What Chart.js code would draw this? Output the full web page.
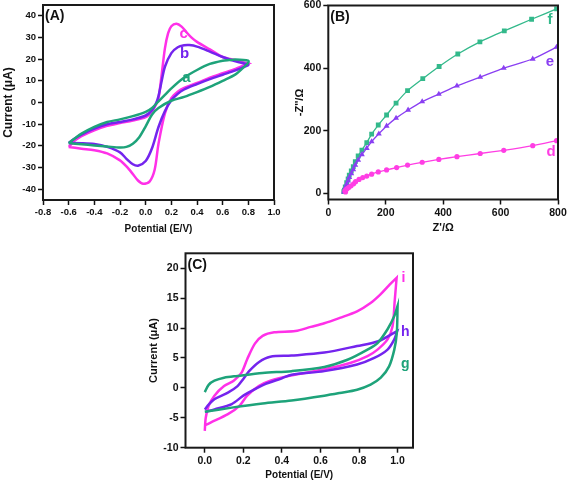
<!DOCTYPE html>
<html>
<head>
<meta charset="utf-8">
<script src="https://cdn.jsdelivr.net/npm/chart.js@4.4.0/dist/chart.umd.min.js"></script>
<style>
  html, body { margin: 0; padding: 0; background: #fff; }
  body { width: 567px; height: 484px; position: relative; overflow: hidden; }
  canvas { position: absolute; }
</style>
</head>
<body>
<canvas id="chartA" width="285" height="236" style="left:0px;top:0px"></canvas>
<canvas id="chartB" width="282" height="236" style="left:285px;top:0px"></canvas>
<canvas id="chartC" width="283" height="244" style="left:140px;top:240px"></canvas>
<script>
/*************************** PANEL A : CV, -0.6 .. 0.8 V ***************************/
// curve a (green)
const aFwdE = [-0.6, -0.55, -0.5, -0.4, -0.3, -0.2, -0.1, 0, 0.05, 0.1, 0.15, 0.2, 0.3, 0.4, 0.5, 0.6, 0.65, 0.7, 0.8];
const aFwdI = [-18.7, -16.5, -14.4, -11.3, -9, -7.8, -6.3, -4.3, -2.5, 0.5, 3.5, 6.5, 11.5, 15, 17.8, 19.3, 19.6, 19.8, 19.3];
const aRevE = [0.8, 0.75, 0.7, 0.6, 0.5, 0.4, 0.3, 0.2, 0.1, 0.05, 0, -0.05, -0.1, -0.15, -0.2, -0.3, -0.4, -0.5, -0.6];
const aRevI = [18.5, 15.5, 13, 10, 7.2, 4.8, 2.6, 0.8, -2.5, -5.5, -11, -16, -19, -20.5, -20.8, -20.3, -19.8, -19.3, -18.7];
// curve b (purple)
const bFwdE = [-0.6, -0.55, -0.5, -0.4, -0.3, -0.2, -0.1, 0, 0.05, 0.08, 0.1, 0.125, 0.15, 0.2, 0.25, 0.3, 0.34, 0.4, 0.5, 0.6, 0.7, 0.8];
const bFwdI = [-18.7, -16.5, -14.8, -12, -10, -9, -7.8, -6, -3.5, -0.5, 3, 10, 16.5, 22.8, 25.5, 26.4, 26.5, 25.8, 23.5, 21, 19, 17.5];
const bRevE = [0.8, 0.7, 0.6, 0.5, 0.4, 0.3, 0.25, 0.2, 0.15, 0.1, 0.05, 0, -0.06, -0.1, -0.15, -0.2, -0.3, -0.4, -0.5, -0.6];
const bRevI = [17.3, 14.8, 12.8, 10.8, 8.5, 6, 4, 1, -4, -11.3, -21, -27, -29.2, -28.5, -26, -23, -20.5, -19.2, -18.8, -18.7];
// curve c (magenta)
const cFwdE = [-0.6, -0.55, -0.5, -0.4, -0.3, -0.2, -0.1, 0, 0.05, 0.08, 0.1, 0.125, 0.15, 0.175, 0.2, 0.24, 0.28, 0.32, 0.36, 0.4, 0.5, 0.6, 0.7, 0.8];
const cFwdI = [-20.5, -17.5, -15.5, -12.8, -10.8, -9.5, -8.3, -6.8, -4, -1, 2, 13, 25, 32, 35.2, 36.3, 35, 32.3, 29.8, 28, 24.5, 21, 19.5, 18];
const cRevE = [0.8, 0.7, 0.6, 0.5, 0.4, 0.3, 0.25, 0.2, 0.15, 0.1, 0.07, 0.03, -0.02, -0.06, -0.1, -0.15, -0.2, -0.3, -0.4, -0.5, -0.6];
const cRevI = [18, 15.5, 13.5, 11.5, 9, 6.8, 5, 2, -5, -19, -31, -36.5, -37.5, -36, -33, -29.5, -26.7, -23.5, -22, -21.3, -20.5];

const aXTicks = [-0.8, -0.6, -0.4, -0.2, 0, 0.2, 0.4, 0.6, 0.8, 1.0];
const aYTicks = [-40, -30, -20, -10, 0, 10, 20, 30, 40];
const aTags = ["a", "b", "c"];
const aTagE = [0.317, 0.304, 0.296];
const aTagI = [11.5, 22.5, 31.5];

/*************************** PANEL B : Nyquist ***************************/
const dRe = [60, 58, 62, 66, 72, 79, 88, 95, 107, 120, 134, 151, 174, 203, 238, 276, 327, 385, 448, 529, 611, 712, 795];
const dIm = [4, 8, 12, 15, 19, 24, 30, 37, 44, 50, 55, 61, 68, 74.5, 82, 90, 99, 108, 117, 127, 137, 152, 168];
const eRe = [55, 56, 59, 64, 69, 73, 80, 87, 94, 104, 117, 134, 151, 176, 203, 236, 278, 327, 385, 448, 529, 611, 712, 795];
const eIm = [5, 9, 18, 29, 40, 51, 63, 76, 90, 106, 124, 144, 165, 190, 215, 240, 266, 293, 317, 343, 371, 400, 429, 467];
const fRe = [54, 56, 59, 64, 69, 73, 80, 87, 94, 104, 117, 134, 151, 174, 203, 236, 276, 329, 386, 451, 528, 613, 708, 795];
const fIm = [5, 10, 20, 34, 46, 58, 71, 85, 101, 119, 138, 162, 189, 218, 250, 288, 328, 366, 405, 445, 484, 519, 556, 589];

const bXTicks = [0, 200, 400, 600, 800];
const bYTicks = [0, 200, 400, 600];
const bTags = ["d", "e", "f"];
const bTagRe = [776, 772, 772];
const bTagIm = [133, 419, 554];

/*************************** PANEL C : CV, 0 .. 1.0 V ***************************/
// curve g (green)
const gFwdE = [0, 0.02, 0.05, 0.1, 0.17, 0.3, 0.45, 0.62, 0.74, 0.844, 0.896, 0.948, 0.983, 1.0];
const gFwdI = [-0.7, 0.5, 1.2, 1.7, 2.0, 2.5, 2.8, 3.5, 4.7, 6.4, 7.5, 9.8, 12, 13.7];
const gRevE = [1.0, 0.996, 0.983, 0.956, 0.913, 0.86, 0.79, 0.7, 0.62, 0.45, 0.3, 0.14, 0];
const gRevI = [13.7, 9.2, 6.4, 3.6, 1.7, 0.55, -0.3, -0.85, -1.3, -2.1, -2.6, -3.3, -4];
// curve h (purple)
const hFwdE = [0, 0.02, 0.05, 0.12, 0.17, 0.2, 0.23, 0.28, 0.34, 0.45, 0.62, 0.79, 0.9, 0.998];
const hFwdI = [-3.6, -2.8, -1.9, -0.8, 0.3, 1.5, 2.8, 4.3, 5.2, 5.4, 5.9, 7, 7.8, 9.5];
const hRevE = [0.998, 0.983, 0.948, 0.879, 0.79, 0.62, 0.45, 0.4, 0.31, 0.26, 0.2, 0.14, 0.05, 0.005];
const hRevI = [9.5, 8.1, 6.4, 5.0, 3.9, 2.8, 2.2, 1.6, 0.6, -0.2, -1.3, -2.7, -3.6, -4];
// curve i (magenta)
const iFwdE = [0, 0.005, 0.02, 0.05, 0.1, 0.15, 0.19, 0.22, 0.26, 0.3, 0.36, 0.47, 0.55, 0.62, 0.7, 0.79, 0.86, 0.91, 0.96, 0.995];
const iFwdI = [-7.2, -5, -3, -1.3, 0.3, 1.2, 2.5, 4.8, 7.4, 8.7, 9.3, 9.5, 10.2, 10.8, 11.7, 12.8, 14.2, 15.6, 17.3, 18.4];
const iRevE = [0.995, 0.985, 0.974, 0.948, 0.896, 0.844, 0.758, 0.62, 0.446, 0.34, 0.28, 0.22, 0.18, 0.12, 0.03, 0.005];
const iRevI = [18.4, 14.5, 10.3, 8.1, 6.4, 5.3, 4.2, 3.1, 2.06, 1.2, 0.3, -1.3, -3, -4.4, -5.8, -6.2];

const cXTicks = [0, 0.2, 0.4, 0.6, 0.8, 1.0];
const cYTicks = [-10, -5, 0, 5, 10, 15, 20];
const cTags = ["g", "h", "i"];
const cTagE = [1.04, 1.04, 1.03];
const cTagI = [4, 9.3, 18.3];

/*************************** COLORES ***************************/
const green = "#1ea37a";
const purple = "#7424ee";
const magenta = "#ff30e8";
const greenB = "#33b98b";
const purpleB = "#8a3ff2";
const magentaB = "#ff3ee4";

Chart.defaults.font.family = '"Liberation Sans", Arial, Helvetica, sans-serif';
Chart.defaults.color = "#111";
Chart.defaults.animation = false;

// ida + vuelta en un solo trazo
const loop = (fe, fi, re, ri) =>
  fe.map((e, k) => ({ x: e, y: fi[k] })).concat(re.map((e, k) => ({ x: e, y: ri[k] })));
const pts = (xs, ys) => xs.map((v, k) => ({ x: v, y: ys[k] }));

const cvLine = (data, color) => ({
  data: data,
  showLine: true,
  borderColor: color,
  backgroundColor: color,
  borderWidth: 2.5,
  pointRadius: 0,
  tension: 0.3,
  fill: false,
});

const nyLine = (data, color, style, radius) => ({
  data: data,
  showLine: true,
  borderColor: color,
  backgroundColor: color,
  borderWidth: 1.3,
  pointStyle: style,
  pointRadius: radius,
  pointBorderWidth: 0,
  tension: 0.2,
  fill: false,
});

const makeScale = (min, max, vals, dec, fontSize, boxSize, horiz, title, titleSize, titlePad) => ({
  type: "linear",
  min: min,
  max: max,
  afterBuildTicks: (s) => {
    s.ticks = vals.map((v) => ({ value: v }));
  },
  afterFit: (s) => {
    if (horiz) {
      s.height = boxSize;
      s.paddingLeft = 0;
      s.paddingRight = 0;
    } else {
      s.width = boxSize;
      s.paddingTop = 0;
      s.paddingBottom = 0;
    }
  },
  grid: { drawOnChartArea: false, drawTicks: true, tickLength: 5, tickWidth: 1.5, tickColor: "#111" },
  border: { display: false },
  ticks: {
    padding: 2,
    autoSkip: false,
    maxRotation: 0,
    color: "#111",
    font: { size: fontSize, weight: "bold" },
    callback: (v) => Number(v).toFixed(dec),
  },
  title: {
    display: true,
    text: title,
    color: "#111",
    font: { size: titleSize, weight: "bold" },
    padding: titlePad,
  },
});

// marco + etiquetas (A), a, b, c...
const panelText = {
  id: "panelText",
  afterDatasetsDraw(chart, args, opts) {
    const ctx = chart.ctx;
    const a = chart.chartArea;
    ctx.save();
    ctx.strokeStyle = "#1a1a1a";
    ctx.lineWidth = 2;
    ctx.strokeRect(a.left, a.top, a.right - a.left, a.bottom - a.top);
    ctx.textBaseline = "middle";
    ctx.textAlign = "left";
    ctx.fillStyle = "#111";
    ctx.font = 'bold 14px "Liberation Sans", Arial, sans-serif';
    ctx.fillText(opts.panel, a.left + 2, a.top + opts.panelDy);
    ctx.textAlign = "center";
    ctx.font = "bold " + opts.tagSize + 'px "Liberation Sans", Arial, sans-serif';
    opts.tags.forEach((t, k) => {
      ctx.fillStyle = opts.tagColors[k];
      ctx.fillText(t, chart.scales.x.getPixelForValue(opts.tagX[k]), chart.scales.y.getPixelForValue(opts.tagY[k]));
    });
    ctx.restore();
  },
};

/*************************** CHART A ***************************/
new Chart(document.getElementById("chartA"), {
  type: "scatter",
  data: {
    datasets: [
      cvLine(loop(aFwdE, aFwdI, aRevE, aRevI), green),
      cvLine(loop(bFwdE, bFwdI, bRevE, bRevI), purple),
      cvLine(loop(cFwdE, cFwdI, cRevE, cRevI), magenta),
    ],
  },
  options: {
    responsive: false,
    layout: { padding: { left: 0, top: 5, right: 11, bottom: 0 } },
    scales: {
      x: makeScale(-0.8, 1.0, aXTicks, 1, 9.5, 36, true, "Potential (E/V)", 10, { top: 0, bottom: 1 }),
      y: makeScale(-45, 45, aYTicks, 0, 9.5, 43, false, "Current (μA)", 12, { top: 1, bottom: 0 }),
    },
    plugins: {
      legend: { display: false },
      tooltip: { enabled: false },
      panelText: {
        panel: "(A)",
        panelDy: 11,
        tagSize: 15,
        tags: aTags,
        tagX: aTagE,
        tagY: aTagI,
        tagColors: [green, purple, magenta],
      },
    },
  },
  plugins: [panelText],
});

/*************************** CHART B ***************************/
new Chart(document.getElementById("chartB"), {
  type: "scatter",
  data: {
    datasets: [
      nyLine(pts(dRe, dIm), magentaB, "circle", 2.6),
      nyLine(pts(eRe, eIm), purpleB, "triangle", 3.4),
      nyLine(pts(fRe, fIm), greenB, "rect", 3.4),
    ],
  },
  options: {
    responsive: false,
    layout: { padding: { left: 0, top: 5.5, right: 9, bottom: 0 } },
    scales: {
      x: makeScale(0, 800, bXTicks, 0, 10.5, 36.5, true, "Z'/Ω", 11, { top: 0, bottom: 1 }),
      y: makeScale(-20, 600, bYTicks, 0, 10.5, 43.3, false, "-Z''/Ω", 11, { top: 8, bottom: 0 }),
    },
    plugins: {
      legend: { display: false },
      tooltip: { enabled: false },
      panelText: {
        panel: "(B)",
        panelDy: 12,
        tagSize: 15,
        tags: bTags,
        tagX: bTagRe,
        tagY: bTagIm,
        tagColors: [magentaB, purpleB, greenB],
      },
    },
  },
  plugins: [panelText],
});

/*************************** CHART C ***************************/
new Chart(document.getElementById("chartC"), {
  type: "scatter",
  data: {
    datasets: [
      cvLine(loop(gFwdE, gFwdI, gRevE, gRevI), green),
      cvLine(loop(hFwdE, hFwdI, hRevE, hRevI), purple),
      cvLine(loop(iFwdE, iFwdI, iRevE, iRevI), magenta),
    ],
  },
  options: {
    responsive: false,
    layout: { padding: { left: 0, top: 13.3, right: 10, bottom: 0 } },
    scales: {
      x: makeScale(-0.1, 1.08, cXTicks, 1, 10.5, 36.3, true, "Potential (E/V)", 10, { top: 0, bottom: 3 }),
      y: makeScale(-10, 22.5, cYTicks, 0, 10.5, 45.5, false, "Current (μA)", 11, { top: 7.7, bottom: 0 }),
    },
    plugins: {
      legend: { display: false },
      tooltip: { enabled: false },
      panelText: {
        panel: "(C)",
        panelDy: 12,
        tagSize: 14,
        tags: cTags,
        tagX: cTagE,
        tagY: cTagI,
        tagColors: [green, purple, magenta],
      },
    },
  },
  plugins: [panelText],
});
</script>
</body>
</html>
